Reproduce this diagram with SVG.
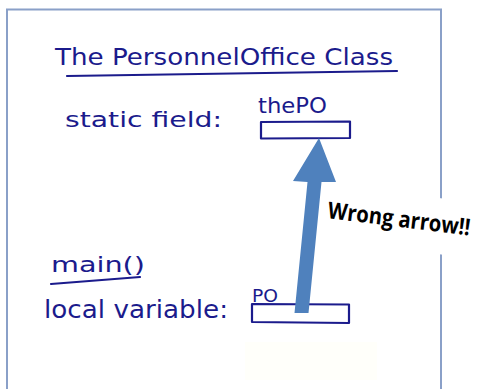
<svg xmlns="http://www.w3.org/2000/svg" width="479" height="389" viewBox="0 0 479 389">
  <style>
    .hand { font-family: "DejaVu Sans", "Liberation Sans", sans-serif; fill: #1b1b8c; }
    .ink { fill: none; stroke: #1b1b8c; stroke-width: 2.2; stroke-linecap: round; stroke-linejoin: round; }
    .frame { fill: none; stroke: #8aa0c8; stroke-width: 2; }
    .note { font-family: "Open Sans", "Liberation Sans", sans-serif; font-weight: bold; fill: #000000; }
  </style>
  <rect x="0" y="0" width="479" height="389" fill="#ffffff"/>
  <g id="frame">
    <path class="frame" d="M7,389 V9.5 H441 V389"/>
  </g>
  <rect x="245" y="342" width="132" height="38" fill="#fffffa"/>

  <g id="title">
    <text class="hand" x="55" y="65" font-size="23" textLength="338" lengthAdjust="spacingAndGlyphs">The PersonnelOffice Class</text>
    <path class="ink" d="M67,76 L397,71"/>
  </g>

  <g id="static-field">
    <text class="hand" x="65" y="127" font-size="22" textLength="157" lengthAdjust="spacingAndGlyphs">static field:</text>
  </g>

  <g id="thePO">
    <text class="hand" x="258" y="113" font-size="21" textLength="69" lengthAdjust="spacingAndGlyphs">thePO</text>
    <path class="ink" d="M261,122 L350,121.5 L350,138 L261,138.5 Z"/>
  </g>

  <g id="main">
    <text class="hand" x="51" y="272" font-size="22" textLength="94" lengthAdjust="spacingAndGlyphs">main()</text>
    <path class="ink" d="M51,284 L140,277"/>
  </g>

  <g id="local-variable">
    <text class="hand" x="44" y="318" font-size="24" textLength="184" lengthAdjust="spacingAndGlyphs">local variable:</text>
  </g>

  <g id="PO">
    <text class="hand" x="252" y="302" font-size="18" textLength="26" lengthAdjust="spacingAndGlyphs">PO</text>
    <path class="ink" d="M252,304 L349,304.5 L349,323 L252,322 Z"/>
  </g>

  <g id="connectors">
    <polygon fill="#4f81bd" points="294.5,313 308.5,313 321.5,182 336,182 319,138 293,181 307.5,182"/>
  </g>

  <g id="note">
    <polygon fill="#ffffff" points="326,184 479,203 479,259 320,240"/>
    <g transform="translate(327 218) rotate(7) scale(0.88 1)">
      <text class="note" x="0" y="0" font-size="23">Wrong arrow!!</text>
    </g>
  </g>
</svg>
